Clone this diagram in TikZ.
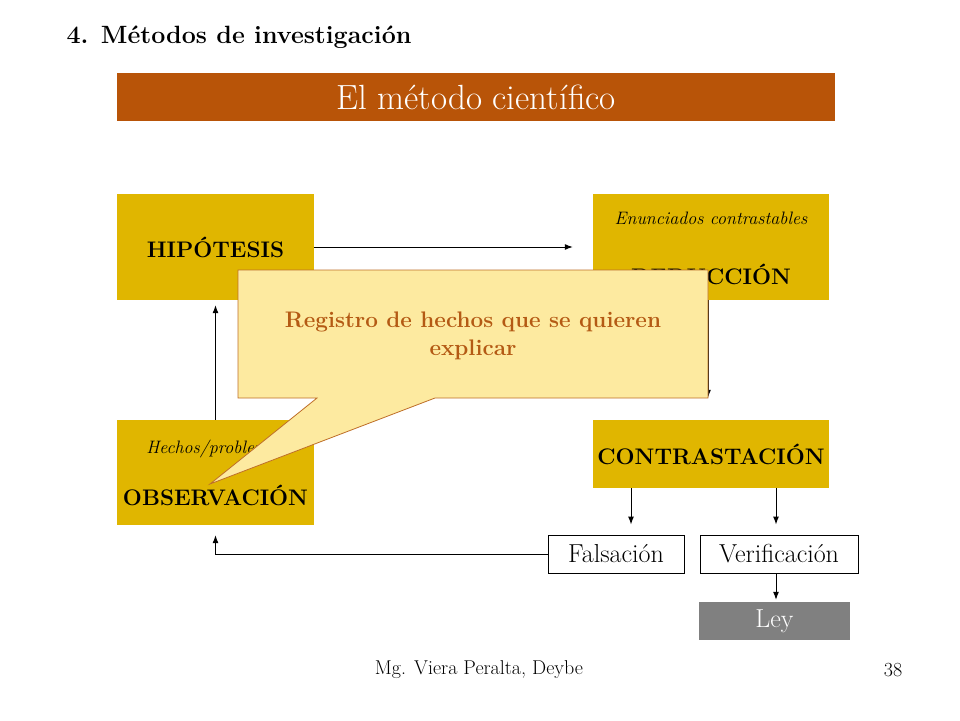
\documentclass[tikz,border=0pt]{standalone}
\usepackage{tikz}
\usetikzlibrary{arrows.meta}

\definecolor{banner}{RGB}{184,84,8}
\definecolor{gold}{RGB}{224,182,0}
\definecolor{callfill}{RGB}{253,234,160}
\definecolor{calldraw}{RGB}{190,110,40}
\definecolor{calltext}{RGB}{180,90,20}
\definecolor{leygray}{RGB}{128,128,128}

\tikzset{
  goldbox/.style={fill=gold, inner sep=0pt, align=center},
  boldlabel/.style={font=\fontsize{22.5}{26}\selectfont\bfseries},
  smalllabel/.style={font=\fontsize{18}{21}\selectfont\itshape},
  whitebox/.style={draw=black, line width=1pt, fill=white, inner sep=0pt, font=\fontsize{26}{30}\selectfont},
  flow/.style={->, >={Latex[length=8pt,width=6pt]}, line width=1pt},
}

\begin{document}
\begin{tikzpicture}[x=1pt,y=-1pt]

\useasboundingbox (0,0) rectangle (960,720);

% Title and banner
\node [font=\fontsize{25}{29}\selectfont\bfseries, anchor=west] (titulo) at (63,37) {4. Métodos de investigación};
\node [fill=banner, minimum width=718pt, minimum height=48pt, inner sep=0pt, text=white, font=\fontsize{35}{40}\selectfont] (banda) at (476,97) {El método científico};

% Boxes
\node [goldbox, boldlabel, minimum width=197pt, minimum height=106pt] (hip) at (215.5,247) {HIPÓTESIS};
\node [goldbox, minimum width=236pt, minimum height=106pt] (ded) at (711,247) {};
\node [smalllabel] (enun) at (711,218) {Enunciados contrastables};
\node [boldlabel] (dedtxt) at (711,274) {DEDUCCIÓN};
\node [goldbox, boldlabel, minimum width=236pt, minimum height=68pt] (con) at (711,454) {CONTRASTACIÓN};
\node [goldbox, minimum width=197pt, minimum height=105pt] (obs) at (215.5,472.5) {};
\node [smalllabel] (hechos) at (215.5,449) {Hechos/problemas};
\node [boldlabel] (obstxt) at (215.5,495) {OBSERVACIÓN};

\node [whitebox, minimum width=136pt, minimum height=38pt] (fal) at (616,554) {Falsación};
\node [whitebox, minimum width=158pt, minimum height=38pt] (ver) at (779,554) {Verificación};
\node [fill=leygray, minimum width=151pt, minimum height=38pt, inner sep=0pt, text=white, font=\fontsize{26}{30}\selectfont] (ley) at (774.5,621) {Ley};

% Arrows
\draw [flow, shorten >=20pt] (hip.east) -- (ded.west);
\draw [flow, shorten >=22pt] ([xshift=-3pt]ded.south) -- ([xshift=-3pt]con.north);
\draw [flow, shorten >=5pt] (obs.north) -- (hip.south);
\draw [flow, shorten >=10pt] ([xshift=-80pt]con.south) -- ([xshift=15pt]fal.north);
\draw [flow, shorten >=10pt] ([xshift=65pt]con.south) -- ([xshift=-3pt]ver.north);
\draw [flow, shorten >=10pt] (fal.west) -| (obs.south);
\draw [flow, shorten >=2pt] ([xshift=-3pt]ver.south) -- ([xshift=-3pt]ver.south |- ley.north);

% Callout
\draw [fill=callfill, draw=calldraw, line width=0.8pt, line join=miter]
  (238,270) -- (708,270) -- (708,398) -- (435,398) -- (210,484) -- (317,398) -- (238,398) -- cycle;
\node [text=calltext, align=center, font=\fontsize{22.5}{28}\selectfont\bfseries] (registro) at (473,336) {Registro de hechos que se quieren\\explicar};

% Footer
\node [font=\fontsize{20}{24}\selectfont] (autor) at (479,670) {Mg. Viera Peralta, Deybe};
\node [font=\fontsize{20}{24}\selectfont] (pagina) at (893,670) {38};

\end{tikzpicture}
\end{document}
